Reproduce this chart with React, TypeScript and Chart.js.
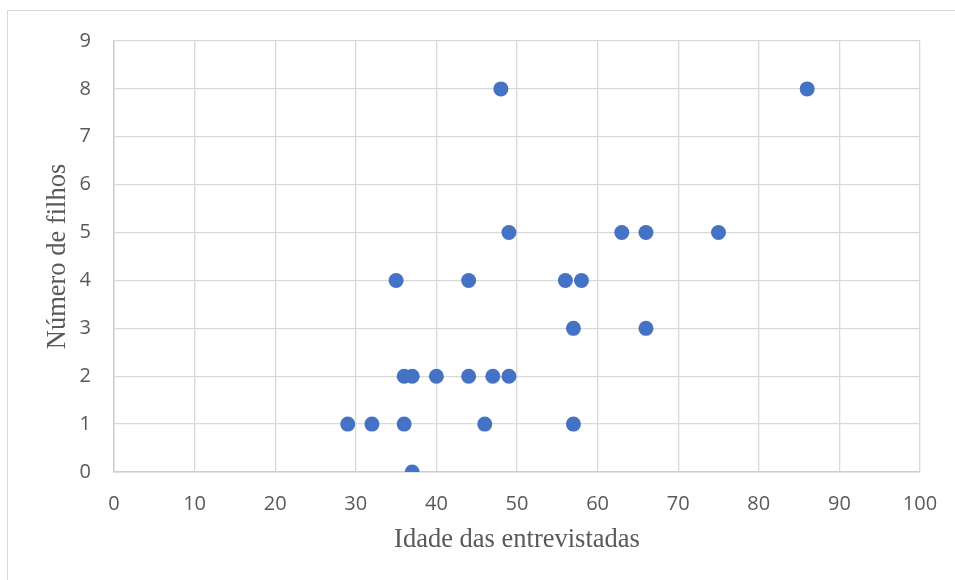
import React, { useEffect, useRef } from "react";
import { Chart, registerables } from "chart.js";

Chart.register(...registerables);

// Idade de cada entrevistada e o respectivo número de filhos
const idades: number[] = [48, 86, 49, 63, 66, 75, 35, 44, 56, 58, 57, 66, 36, 37, 40, 44, 47, 49, 29, 32, 36, 46, 57, 37];
const filhos: number[] = [8, 8, 5, 5, 5, 5, 4, 4, 4, 4, 3, 3, 2, 2, 2, 2, 2, 2, 1, 1, 1, 1, 1, 0];

const xTitulo = "Idade das entrevistadas";
const yTitulo = "Número de filhos";

export default function App() {
  const canvasRef = useRef<HTMLCanvasElement | null>(null);

  useEffect(() => {
    const canvas = canvasRef.current;
    if (!canvas) return;
    const pontos = idades.map((x, i) => ({ x, y: filhos[i] }));
    const tickFont = { family: "'Open Sans', sans-serif", size: 20 };
    const titleFont = { family: "'Liberation Serif', 'Times New Roman', serif", size: 26.5 };
    const chart = new Chart(canvas, {
      type: "scatter",
      data: {
        datasets: [
          {
            data: pontos,
            backgroundColor: "#4472C4",
            borderColor: "#4472C4",
            borderWidth: 0,
            pointRadius: 7.5,
            pointHoverRadius: 7.5,
          },
        ],
      },
      options: {
        responsive: false,
        animation: false,
        layout: { padding: { top: 41, right: 35, left: 0, bottom: 0 } },
        plugins: { legend: { display: false }, tooltip: { enabled: false } },
        scales: {
          x: {
            type: "linear",
            min: 0,
            max: 100,
            ticks: { stepSize: 10, color: "#595959", font: tickFont, padding: 20, maxRotation: 0 },
            grid: { color: "#d9d9d9", lineWidth: 1.3, drawTicks: false },
            border: { color: "#cfcfcf", width: 1.5 },
            title: {
              display: true,
              text: xTitulo,
              color: "#595959",
              font: titleFont,
              padding: { top: 0, bottom: 24 },
            },
            afterFit: (scale: any) => {
              scale.height = 108;
              // end labels fit inside the layout padding already
              scale.paddingLeft = 0;
              scale.paddingRight = 0;
            },
          },
          y: {
            type: "linear",
            min: 0,
            max: 9,
            ticks: { stepSize: 1, color: "#595959", font: tickFont, padding: 23 },
            grid: { color: "#d9d9d9", lineWidth: 1.3, drawTicks: false },
            border: { color: "#cfcfcf", width: 1.5 },
            title: {
              display: true,
              text: yTitulo,
              color: "#595959",
              font: titleFont,
              padding: { top: 42, bottom: 0 },
            },
            afterFit: (scale: any) => {
              scale.width = 114;
            },
          },
        },
      },
    });
    return () => chart.destroy();
  }, []);

  return (
    <div style={{ position: "absolute", left: 0, top: 0, width: 955, height: 580, background: "#fff", overflow: "hidden" }}>
      <div
        style={{
          position: "absolute",
          left: 7,
          top: 10,
          width: 1000,
          height: 700,
          borderLeft: "1.5px solid #d9d9d9",
          borderTop: "1.5px solid #d9d9d9",
        }}
      />
      <canvas ref={canvasRef} width={955} height={580} style={{ position: "absolute", left: 0, top: 0 }} />
    </div>
  );
}
